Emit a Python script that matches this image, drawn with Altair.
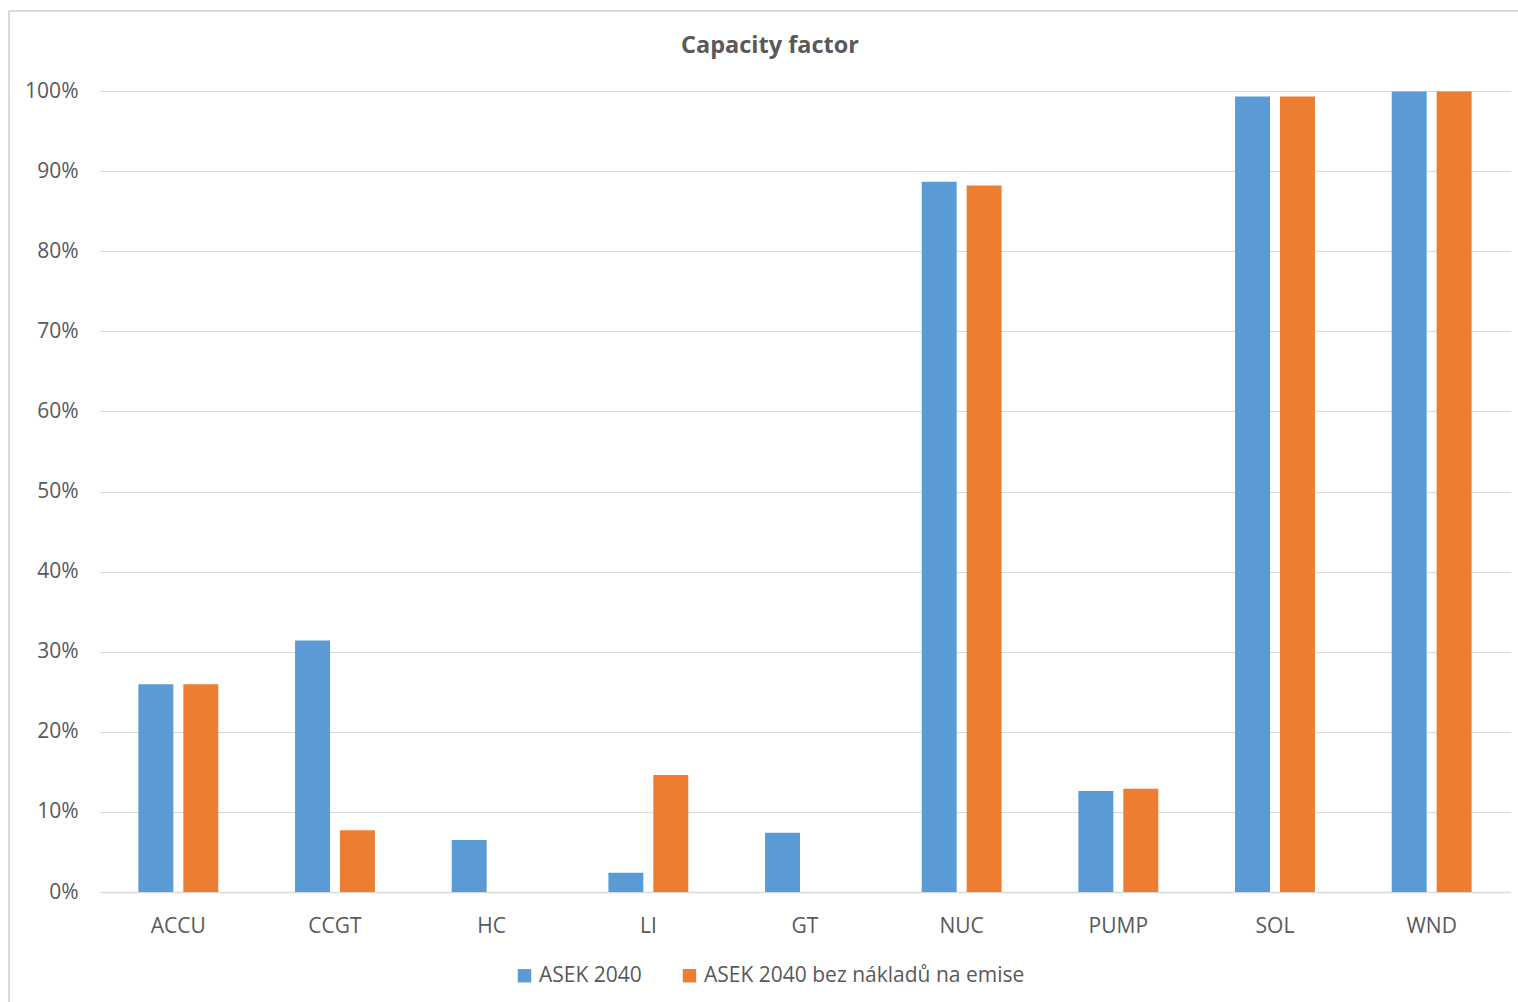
import altair as alt
import pandas as pd

# Capacity factor per technology for two scenarios
technologies = ["ACCU", "CCGT", "HC", "LI", "GT", "NUC", "PUMP", "SOL", "WND"]
series_names = ["ASEK 2040", "ASEK 2040 bez nákladů na emise"]
asek_2040 = [0.2595, 0.314, 0.065, 0.024, 0.074, 0.8866, 0.126, 0.993, 0.9995]
asek_2040_no_emission_cost = [0.2595, 0.077, 0.0, 0.146, 0.0, 0.882, 0.129, 0.993, 0.9995]
colors = ["#5B9BD5", "#ED7D31"]
y_ticks = [i / 10 for i in range(11)]
chart_title = "Capacity factor"

rows = []
for tech, a, b in zip(technologies, asek_2040, asek_2040_no_emission_cost):
    rows.append({"tech": tech, "series": series_names[0], "value": a})
    rows.append({"tech": tech, "series": series_names[1], "value": b})
df = pd.DataFrame(rows)

FONT = "Open Sans"
GREY_TEXT = "#595959"
GRID = "#d9d9d9"
LABEL_SIZE = 21

bars = alt.Chart(df).mark_bar().encode(
    x=alt.X(
        "tech:N",
        sort=technologies,
        title=None,
        scale=alt.Scale(paddingInner=0.49, paddingOuter=0.245),
        axis=alt.Axis(
            labelAngle=0,
            labelFontSize=LABEL_SIZE,
            labelColor=GREY_TEXT,
            labelFont=FONT,
            labelPadding=23,
            ticks=False,
            grid=False,
            domainColor=GRID,
            domainWidth=1.5,
        ),
    ),
    xOffset=alt.XOffset(
        "series:N",
        sort=series_names,
        scale=alt.Scale(paddingInner=0.222, paddingOuter=0),
    ),
    y=alt.Y(
        "value:Q",
        title=None,
        scale=alt.Scale(domain=[0, 1], nice=False),
        axis=alt.Axis(
            values=y_ticks,
            format=".0%",
            labelFontSize=LABEL_SIZE,
            labelColor=GREY_TEXT,
            labelFont=FONT,
            labelPadding=22,
            ticks=False,
            domain=False,
            gridColor=GRID,
            gridWidth=1,
        ),
    ),
    color=alt.Color(
        "series:N",
        sort=series_names,
        scale=alt.Scale(domain=series_names, range=colors),
        legend=alt.Legend(
            title=None,
            orient="none",
            direction="horizontal",
            legendX=414,
            legendY=874,
            symbolType="square",
            symbolSize=180,
            symbolStrokeWidth=0,
            labelFontSize=LABEL_SIZE,
            labelColor=GREY_TEXT,
            labelFont=FONT,
            labelOffset=4,
            labelLimit=0,
            columnPadding=37,
        ),
    ),
)

# light frame around the chart area
frame_left = alt.Chart(df).mark_rule(color=GRID, strokeWidth=1.5).encode(
    x=alt.value(-91), y=alt.value(-80), y2=alt.value(911)
)
frame_top = alt.Chart(df).mark_rule(color=GRID, strokeWidth=1.5).encode(
    x=alt.value(-91), x2=alt.value(1418), y=alt.value(-80)
)

# chart title, centred over the chart area
title = alt.Chart(pd.DataFrame({"t": [chart_title]})).mark_text(
    font=FONT,
    fontSize=23.5,
    fontWeight="bold",
    color=GREY_TEXT,
    align="center",
    baseline="middle",
).encode(text="t:N", x=alt.value(670), y=alt.value(-45))

chart = (
    alt.layer(frame_left, frame_top, bars, title)
    .properties(
        width=1410,
        height=801,
        autosize=alt.AutoSizeParams(type="none"),
        padding={"left": 100, "top": 91, "right": 8, "bottom": 110},
        view=alt.ViewBackground(stroke="transparent", strokeWidth=0),
    )
    .configure_view(strokeWidth=0, stroke="transparent")
    .configure_axisY(domain=False)
    .configure(background="white")
)

chart.save("out.html", embed_options={"renderer": "svg", "actions": False})
